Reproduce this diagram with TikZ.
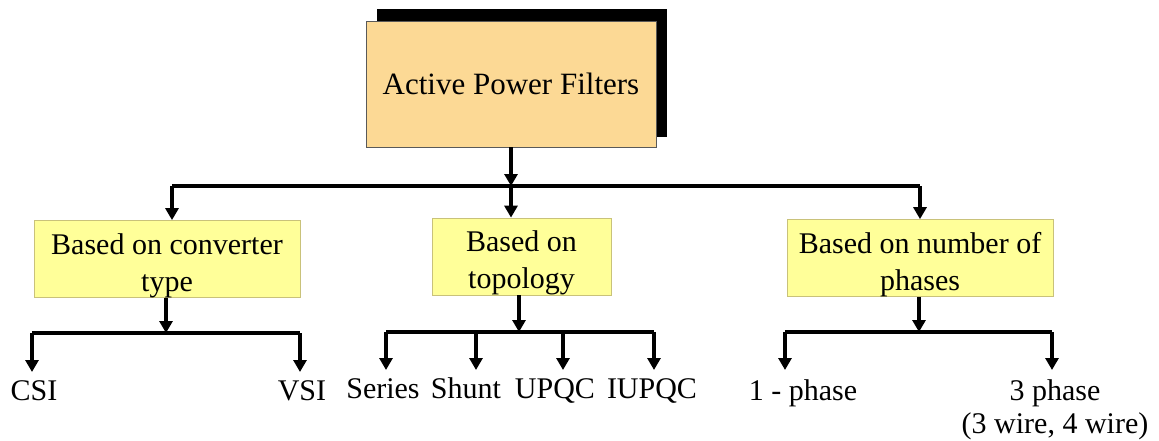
\documentclass[tikz,border=0pt]{standalone}
\usepackage{fontspec}
\setmainfont{Liberation Serif}
\usetikzlibrary{arrows.meta}
\definecolor{mainfill}{HTML}{FCD995}
\definecolor{subfill}{HTML}{FFFF99}
\definecolor{subline}{HTML}{C9C27A}
\newcommand{\lowr}{\rule{0pt}{33.5pt}}
\begin{document}
\begin{tikzpicture}[x=1pt,y=-1pt,
  conn/.style={line width=3.1pt},
  arr/.style={line width=3.1pt,-{Triangle[width=13pt,length=12pt]}},
  mainbox/.style={draw=black!65,line width=0.8pt,fill=mainfill,minimum width=290pt,minimum height=126pt,inner sep=0pt,font=\fontsize{31}{37}\selectfont},
  subbox/.style={draw=subline,line width=0.8pt,fill=subfill,inner sep=0pt,align=center,font=\fontsize{30}{37}\selectfont},
  leaf/.style={inner sep=2pt,anchor=base,font=\fontsize{30}{33}\selectfont}]
\useasboundingbox (0,0) rectangle (1159,441);
% main box with shadow
\fill[black] (377,9) rectangle (667,137);
\node[mainbox] (main) at (511,84) {Active Power Filters};
% second level boxes
\node[subbox,minimum width=266pt,minimum height=68pt] (conv) at (167,259) {\lowr Based on converter\\type};
\node[subbox,minimum width=179pt,minimum height=69pt] (topo) at (521.5,256.5) {\lowr Based on\\topology};
\node[subbox,minimum width=266pt,minimum height=70pt] (phase) at (920,258) {\lowr Based on number of\\phases};
% junctions level 1
\coordinate (j0) at (511,186);
\coordinate (jl) at (172,186);
\coordinate (jr) at (920,186);
\draw[arr] (main.south) -- (j0);
\draw[conn] (jl) -- (jr);
\draw[arr] (jl) -- (jl |- conv.north);
\draw[arr] (j0) -- (j0 |- topo.north);
\draw[arr] (jr) -- (jr |- phase.north);
% leaves
\node[leaf] (csi) at (34,400) {CSI};
\node[leaf] (vsi) at (302,400) {VSI};
\node[leaf] (series) at (383,398) {Series};
\node[leaf] (shunt) at (466,398) {Shunt};
\node[leaf] (upqc) at (555,398) {UPQC};
\node[leaf] (iupqc) at (652,398) {IUPQC};
\node[leaf] (one) at (803,400) {1 - phase};
\node[leaf,align=center] (three) at (1055,433) {3 phase\\(3 wire, 4 wire)};
% converter branch
\coordinate (c0) at (166,333);
\coordinate (c1) at (32,333);
\coordinate (c2) at (300,333);
\draw[arr] (c0 |- conv.south) -- (c0);
\draw[conn] (c1) -- (c2);
\draw[arr] (c1) -- (c1 |- 0,372);
\draw[arr] (c2) -- (c2 |- 0,372);
% topology branch
\coordinate (t0) at (519,332);
\coordinate (t1) at (386,332);
\coordinate (t2) at (476,332);
\coordinate (t3) at (563,332);
\coordinate (t4) at (654,332);
\draw[arr] (t0 |- topo.south) -- (t0);
\draw[conn] (t1) -- (t4);
\draw[arr] (t1) -- (t1 |- 0,370);
\draw[arr] (t2) -- (t2 |- 0,370);
\draw[arr] (t3) -- (t3 |- 0,370);
\draw[arr] (t4) -- (t4 |- 0,370);
% phases branch
\coordinate (p0) at (919,332);
\coordinate (p1) at (785,332);
\coordinate (p2) at (1052,332);
\draw[arr] (p0 |- phase.south) -- (p0);
\draw[conn] (p1) -- (p2);
\draw[arr] (p1) -- (p1 |- 0,370);
\draw[arr] (p2) -- (p2 |- 0,370);
\end{tikzpicture}
\end{document}
